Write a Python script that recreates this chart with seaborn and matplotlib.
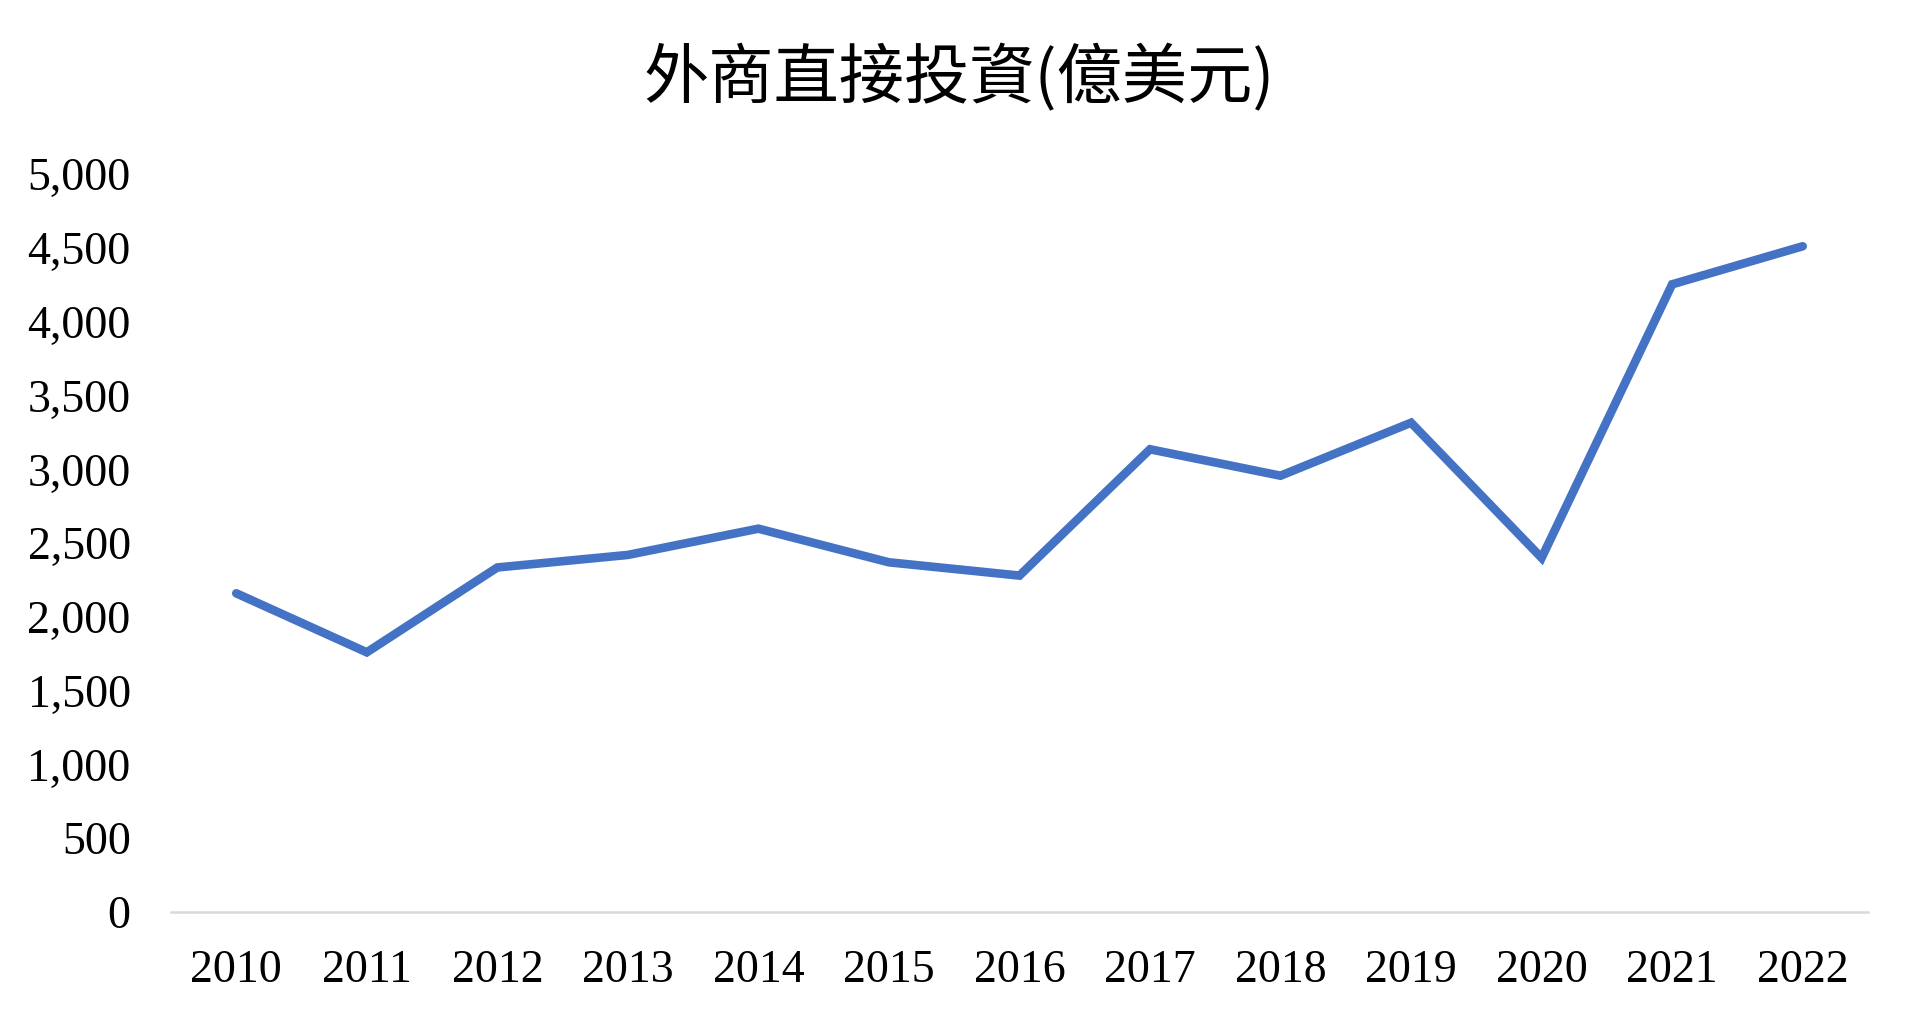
import matplotlib
matplotlib.use("Agg")
import matplotlib.pyplot as plt
import matplotlib.ticker as mticker
import pandas as pd
import seaborn as sns

# data
years = [2010, 2011, 2012, 2013, 2014, 2015, 2016, 2017, 2018, 2019, 2020, 2021, 2022]
fdi = [2160, 1760, 2335, 2420, 2598, 2370, 2280, 3136, 2957, 3316, 2400, 4254, 4512]
y_ticks = [0, 500, 1000, 1500, 2000, 2500, 3000, 3500, 4000, 4500, 5000]
title = "外商直接投資(億美元)"

df = pd.DataFrame({"year": years, "fdi": fdi})

sns.set_theme(style="white")
plt.rcParams["font.family"] = ["Liberation Serif", "DejaVu Serif"]

fig = plt.figure(figsize=(19.19, 10.19), dpi=100)
ax = fig.add_axes([0.0891, 0.105, 0.8843, 0.724])

sns.lineplot(data=df, x="year", y="fdi", ax=ax, color="#4472C4", linewidth=6.2,
             solid_capstyle="round", solid_joinstyle="miter", clip_on=False)

ax.set_xlim(years[0] - 0.5, years[-1] + 0.5)
ax.set_ylim(0, 5000)
ax.set_xticks(years)
ax.set_xticklabels([str(y) for y in years])
ax.set_yticks(y_ticks)
ax.yaxis.set_major_formatter(mticker.FuncFormatter(lambda v, p: f"{int(v):,}"))
ax.set_xlabel("")
ax.set_ylabel("")

for side in ["top", "right", "left"]:
    ax.spines[side].set_visible(False)
ax.spines["bottom"].set_color("#D9D9D9")
ax.spines["bottom"].set_linewidth(1.8)

ax.tick_params(axis="y", length=0, pad=29, labelsize=33, labelcolor="black")
ax.tick_params(axis="x", length=0, pad=27, labelsize=33, labelcolor="black")

fig.text(0.5, 0.922, title, ha="center", va="center", fontsize=47,
         family=["Noto Sans CJK TC", "DejaVu Sans"], color="black")

fig.savefig("out.png", dpi=100, facecolor="white")
